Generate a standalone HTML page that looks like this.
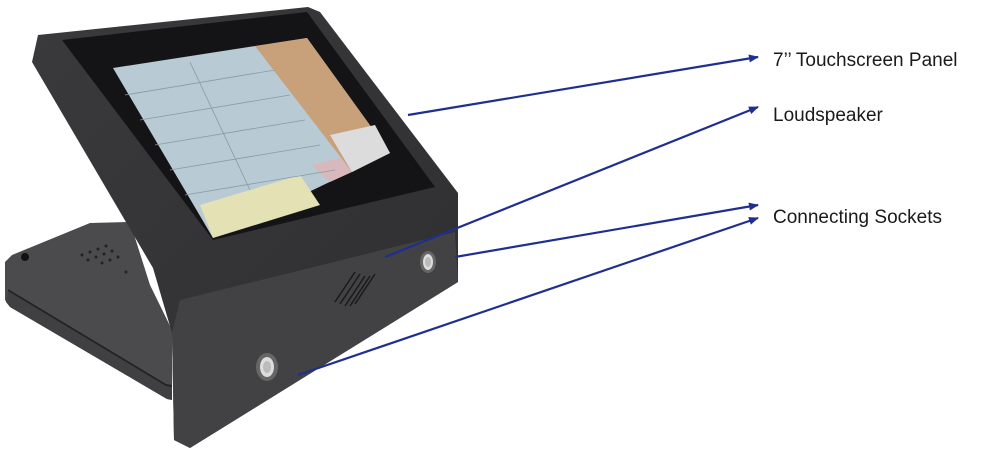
<!DOCTYPE html>
<html><head><meta charset="utf-8"><style>
html,body{margin:0;padding:0;background:#fff;width:1004px;height:455px;overflow:hidden}
svg{display:block}
text{font-family:"Liberation Sans",sans-serif;font-size:19px;fill:#1a1a1a}
</style></head><body>
<svg width="1004" height="455" viewBox="0 0 1004 455">
<defs>
<marker id="ah" markerWidth="10" markerHeight="8" refX="9" refY="4" orient="auto" markerUnits="userSpaceOnUse">
<path d="M0,0 L10,4 L0,8 Z" fill="#1f2f8f"/></marker>
<linearGradient id="hg" x1="0" y1="0" x2="1" y2="1">
<stop offset="0" stop-color="#3a3a3c"/><stop offset="1" stop-color="#2e2e30"/></linearGradient>
</defs>
<!-- base -->
<polygon points="5,262 12,255 90,223 130,222 150,285 172,330 172,400 167,399 10,307 5,300" fill="#4b4b4d"/>
<polygon points="8,290 165,385 172,386 172,400 167,399 10,307 6,302" fill="#404042"/>
<polygon points="8,289 166,384 172,385 172,387 166,386 8,291" fill="#222"/>
<circle cx="25" cy="257" r="4" fill="#111"/>
<g fill="#222">
<circle cx="82" cy="255" r="1.5"/><circle cx="90" cy="252" r="1.5"/><circle cx="98" cy="249" r="1.5"/><circle cx="106" cy="246" r="1.5"/>
<circle cx="88" cy="260" r="1.5"/><circle cx="96" cy="257" r="1.5"/><circle cx="104" cy="254" r="1.5"/><circle cx="112" cy="251" r="1.5"/>
<circle cx="102" cy="263" r="1.5"/><circle cx="110" cy="260" r="1.5"/><circle cx="118" cy="257" r="1.5"/><circle cx="126" cy="272" r="1.5"/>
</g>
<!-- body -->
<polygon points="32,62 38,35 308,7 320,12 458,193 458,282 190,448 174,440 172,333 153,268" fill="url(#hg)"/>
<polygon points="180,300 455,232 458,282 190,448 174,440 172,333" fill="#424244"/>
<!-- screen -->
<polygon points="62,40 307,12 435,187 213,240" fill="#141416"/>
<polygon points="113,68 307,38 390,153 213,238" fill="#b8cad3"/>
<polygon points="255,46 307,38 390,153 352,172" fill="#c8a17a"/>
<polygon points="330,135 375,125 390,153 352,172" fill="#dcdcdc"/>
<polygon points="312,165 340,158 352,172 330,182" fill="#d8b8bb"/>
<polygon points="200,205 300,175 320,205 213,238" fill="#e4e1b4"/>
<g stroke="#8a9aa2" stroke-width="0.8">
<line x1="125" y1="95" x2="275" y2="70"/><line x1="140" y1="120" x2="290" y2="95"/>
<line x1="155" y1="145" x2="305" y2="120"/><line x1="170" y1="170" x2="320" y2="145"/>
<line x1="185" y1="195" x2="335" y2="170"/><line x1="190" y1="62" x2="250" y2="190"/>
</g>
<!-- speaker grille -->
<g stroke="#1a1a1a" stroke-width="1.5">
<line x1="335" y1="302" x2="355" y2="272"/><line x1="340" y1="304" x2="360" y2="274"/>
<line x1="345" y1="306" x2="365" y2="276"/><line x1="350" y1="306" x2="370" y2="276"/>
<line x1="355" y1="304" x2="375" y2="274"/>
</g>
<!-- sockets -->
<ellipse cx="428" cy="262" rx="8" ry="11" fill="#666"/><ellipse cx="428" cy="262" rx="5" ry="8" fill="#ddd"/><ellipse cx="428" cy="262" rx="3" ry="5" fill="#bbb"/>
<ellipse cx="267" cy="367" rx="11" ry="14" fill="#666"/><ellipse cx="267" cy="367" rx="7" ry="10" fill="#ddd"/><ellipse cx="267" cy="367" rx="4" ry="6" fill="#bbb"/>
<!-- connectors -->
<g stroke="#1f2f8f" stroke-width="2.2" fill="none" marker-end="url(#ah)">
<line x1="408" y1="115" x2="758" y2="57"/>
<line x1="385" y1="257" x2="758" y2="107"/>
<line x1="455" y1="257" x2="758" y2="205"/>
<line x1="298" y1="375" x2="758" y2="218"/>
</g>
<text x="773" y="66">7’’ Touchscreen Panel</text>
<text x="773" y="121">Loudspeaker</text>
<text x="773" y="223">Connecting Sockets</text>
</svg>
</body></html>
